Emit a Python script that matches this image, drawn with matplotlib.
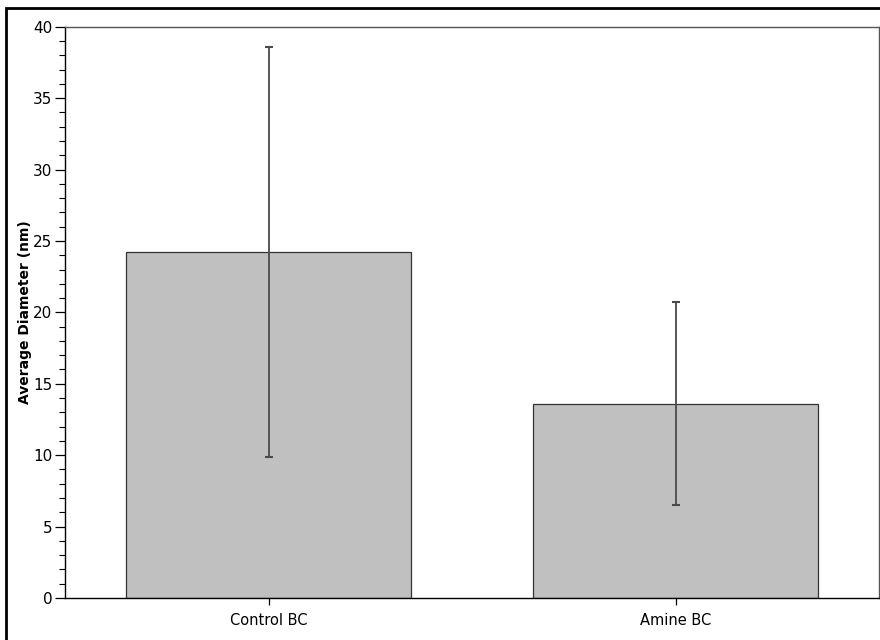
import matplotlib
matplotlib.use("Agg")
import matplotlib.pyplot as plt
from matplotlib.patches import Rectangle
from matplotlib.ticker import MultipleLocator

# data
groups = ["Control BC", "Amine BC"]
means = [24.25, 13.6]
errs = [14.35, 7.1]

fig = plt.figure(figsize=(8.8, 6.4), dpi=100)
ax = fig.add_axes([65/880, 42/640, 814/880, 571.3/640])

x = range(len(groups))
ax.bar(x, means, width=0.7, color="#c0c0c0", edgecolor="#333333", linewidth=0.9, zorder=2)
ax.errorbar(x, means, yerr=errs, fmt="none", ecolor="#4a4a4a", elinewidth=1.3,
            capsize=3, capthick=1.5, zorder=3)

ax.set_xlim(-0.5, 1.5)
ax.set_ylim(0, 40)
ax.set_xticks(list(x))
ax.set_xticklabels(groups, fontsize=10.5)
ax.yaxis.set_major_locator(MultipleLocator(5))
ax.yaxis.set_minor_locator(MultipleLocator(1))
ax.tick_params(axis="y", which="major", length=7, labelsize=11, width=0.9, pad=2)
ax.tick_params(axis="y", which="minor", length=4, width=0.8)
ax.tick_params(axis="x", length=5, width=0.9, pad=6)
ax.set_ylabel("Average Diameter (nm)", fontsize=10, fontweight="bold", labelpad=1)

for s in ["top", "right"]:
    ax.spines[s].set_color("#555555")
    ax.spines[s].set_linewidth(1.0)
for s in ["left", "bottom"]:
    ax.spines[s].set_color("black")
    ax.spines[s].set_linewidth(1.0)

# outer frame around the figure
fig.patches.append(Rectangle((6/880, -0.1), 1.0, 1.1 - 8/640, transform=fig.transFigure,
                             fill=False, edgecolor="black", linewidth=2, zorder=0))

fig.savefig("out.png", dpi=100)
